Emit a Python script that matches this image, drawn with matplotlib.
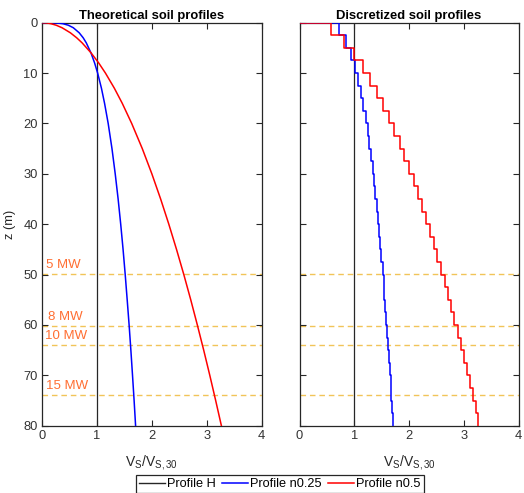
import numpy as np
import matplotlib
matplotlib.use("Agg")
import matplotlib.pyplot as plt
from matplotlib.lines import Line2D

plt.rcParams['font.family'] = ['Liberation Sans', 'DejaVu Sans']
plt.rcParams['mathtext.fontset'] = 'custom'
plt.rcParams['mathtext.rm'] = 'Liberation Sans'
plt.rcParams['mathtext.it'] = 'Liberation Sans'

# ---------------- data ----------------
# theoretical profiles (depth z in m, Vs/Vs30)
z_theo = [0, 0.05, 0.2, 0.5, 1, 2, 3, 4, 6, 8, 10, 13, 16, 20, 25, 30, 35, 40,
          45, 50, 55, 60, 65, 70, 75, 80]
v_n025 = [0, 0.269, 0.381, 0.479, 0.570, 0.677, 0.750, 0.806, 0.892, 0.958,
          1.013, 1.082, 1.139, 1.205, 1.274, 1.333, 1.386, 1.433, 1.476, 1.515,
          1.551, 1.586, 1.618, 1.648, 1.677, 1.704]
v_n05 = [0, 0.082, 0.163, 0.258, 0.365, 0.516, 0.632, 0.730, 0.894, 1.033,
         1.155, 1.317, 1.461, 1.633, 1.826, 2.000, 2.160, 2.309, 2.449, 2.582,
         2.708, 2.828, 2.944, 3.055, 3.162, 3.266]

# discretized profiles: layer tops/bottoms (m) and layer values
layer_top = [0, 2.5, 5, 7.5, 10, 12.5, 15, 17.5, 20, 22.5, 25, 27.5, 30, 32.5,
             35, 37.5, 40, 42.5, 45, 47.5, 50, 52.5, 55, 57.5, 60, 62.5, 65,
             67.5, 70, 72.5, 75, 77.5]
layer_bot = [2.5, 5, 7.5, 10, 12.5, 15, 17.5, 20, 22.5, 25, 27.5, 30, 32.5, 35,
             37.5, 40, 42.5, 45, 47.5, 50, 52.5, 55, 57.5, 60, 62.5, 65, 67.5,
             70, 72.5, 75, 77.5, 80]
d_n025 = [0.716, 0.852, 0.943, 1.013, 1.071, 1.121, 1.165, 1.205, 1.241, 1.274,
          1.305, 1.333, 1.360, 1.386, 1.410, 1.433, 1.455, 1.476, 1.496, 1.515,
          1.534, 1.551, 1.569, 1.586, 1.602, 1.618, 1.633, 1.648, 1.662, 1.677,
          1.690, 1.704]
d_n05 = [0.577, 0.816, 1.000, 1.155, 1.291, 1.414, 1.528, 1.633, 1.732, 1.826,
         1.915, 2.000, 2.082, 2.160, 2.236, 2.309, 2.380, 2.449, 2.517, 2.582,
         2.646, 2.708, 2.769, 2.828, 2.887, 2.944, 3.000, 3.055, 3.109, 3.162,
         3.215, 3.266]

# turbine depth markers
mw_labels = ['5 MW', '8 MW', '10 MW', '15 MW']
mw_depth = [49.8, 60.2, 63.9, 73.9]
mw_label_x = [0.07, 0.11, 0.05, 0.07]

x_ticks = [0, 1, 2, 3, 4]
z_ticks = [0, 10, 20, 30, 40, 50, 60, 70, 80]

# ---------------- style ----------------
C_H = '#262626'
C_B = '#0000FF'
C_R = '#FF0000'
C_DASH = '#EDB120'
C_TXT = '#FF6E32'
AX = '#262626'

W, H = 524, 493
fig = plt.figure(figsize=(W / 100, H / 100), dpi=100)
ax1 = fig.add_axes([42 / W, (H - 425.7) / H, 219.7 / W, 403 / H])
ax2 = fig.add_axes([299.5 / W, (H - 425.7) / H, 219.2 / W, 403 / H])


def stair(vals, tops, bots):
    xs, zs = [0], [0]
    for v, t, b in zip(vals, tops, bots):
        xs += [v, v]
        zs += [t, b]
    return xs, zs


for ax in (ax1, ax2):
    for z in mw_depth:
        ax.axhline(z, color=C_DASH, lw=1.0, alpha=0.75, dashes=(4, 2.8), zorder=1)
    ax.axvline(1, color=C_H, lw=0.9, zorder=2)
    ax.set_xlim(0, 4)
    ax.set_ylim(80, 0)
    ax.set_xticks(x_ticks)
    ax.set_yticks(z_ticks)
    ax.tick_params(direction='in', length=4, width=0.8, colors=AX,
                   top=True, right=True, labelsize=9.3, labelcolor='#333333', pad=3)
    for s in ax.spines.values():
        s.set_color(AX)
        s.set_linewidth(0.9)
    ax.set_xlabel(r'V$_\mathregular{S}$/V$_\mathregular{S,30}$', fontsize=10,
                  color=AX, labelpad=8)

ax1.plot(v_n025, z_theo, color=C_B, lw=1.1, zorder=3)
ax1.plot(v_n05, z_theo, color=C_R, lw=1.1, zorder=3)

xb, zb = stair(d_n025, layer_top, layer_bot)
xr, zr = stair(d_n05, layer_top, layer_bot)
ax2.plot(xb, zb, color=C_B, lw=1.1, zorder=3)
ax2.plot(xr, zr, color=C_R, lw=1.1, zorder=3)
ax2.set_yticklabels([])

for lab, z, x in zip(mw_labels, mw_depth, mw_label_x):
    ax1.text(x, z - 0.6, lab, color=C_TXT, fontsize=9.5, va='bottom', ha='left')

ax1.set_ylabel('z (m)', fontsize=9.3, color=AX, labelpad=5)
ax1.set_title('Theoretical soil profiles', fontsize=9.4, fontweight='bold',
              color='#000000', pad=3)
ax2.set_title('Discretized soil profiles', fontsize=9.4, fontweight='bold',
              color='#000000', pad=3)

handles = [Line2D([], [], color=C_H, lw=1.0),
           Line2D([], [], color=C_B, lw=1.1),
           Line2D([], [], color=C_R, lw=1.1)]
leg = fig.legend(handles, ['Profile H', 'Profile n0.25', 'Profile n0.5'],
                 loc='center', bbox_to_anchor=(280 / W, (H - 484) / H), ncol=3,
                 fontsize=9.2, frameon=True, fancybox=False, framealpha=1,
                 edgecolor=AX, handlelength=2.0, handletextpad=0.2,
                 columnspacing=0.5, borderpad=0.25, borderaxespad=0)
leg.get_frame().set_linewidth(0.9)

fig.savefig('out.png', dpi=100)
